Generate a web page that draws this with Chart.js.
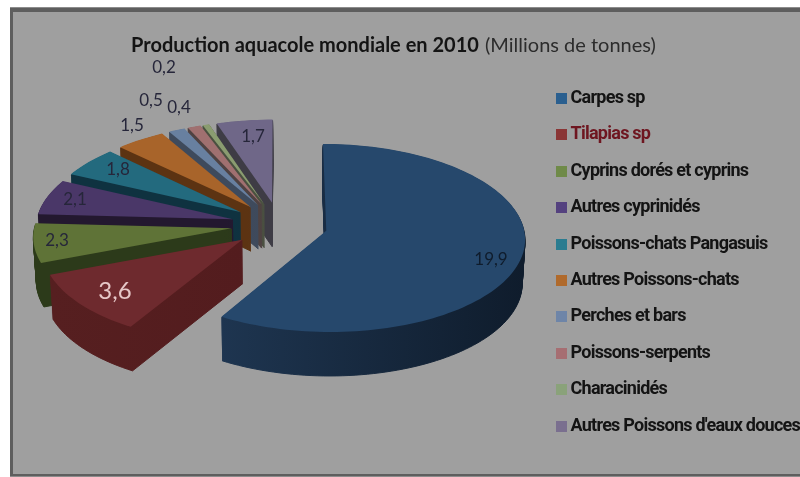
<!DOCTYPE html>
<html lang="fr">
<head>
<meta charset="utf-8">
<title>Production aquacole mondiale en 2010</title>
<script src="https://cdn.jsdelivr.net/npm/chart.js@4"></script>
<style>
html,body{margin:0;padding:0;background:#fff;overflow:hidden}
#wrap{width:800px;height:477px;position:relative}
</style>
</head>
<body>
<div id="wrap"><canvas id="chart" width="800" height="477"></canvas></div>
<script>
// Production figures, millions of tonnes
const categories = ["Carpes sp","Tilapias sp","Cyprins dorés et cyprins","Autres cyprinidés","Poissons-chats Pangasuis","Autres Poissons-chats","Perches et bars","Poissons-serpents","Characinidés","Autres Poissons d'eaux douces"];
const production = [19.9,3.6,2.3,2.1,1.8,1.5,0.5,0.4,0.2,1.7];

// Slice faces, side walls and legend swatches
const topColors = ["#26486c","#6e2a2e","#5f7337","#4a3768","#236a7e","#a8642a","#6880a0","#a07070","#8a9c70","#6f6788"];
const sideNear = ["#1e3550","#561f20","#2c3a1a","#23182f","#0f3240","#5c3312","#3e4a5c","#4f4242","#4a5040","#3e3c45"];
const sideFar = ["#0f1c2c","#531c1e","#2c3a1a","#23182f","#0f3240","#5c3312","#3e4a5c","#4f4242","#4a5040","#3e3c45"];
const legendColors = ["#2a5f8f","#8a3535","#6f8a48","#54417f","#2a7c90","#b06a2c","#6e85a8","#a66e72","#8aa27a","#7a6f8f"];

// Value label centres and sizes, in slice order
const labelPlaces = [[491,260],[115,291],[57,241],[75,200],[118,170],[132,126],[151,101],[179,108],[164,68],[253,137]];
const labelSizes = [17,24,17,17,17,17,17,17,17,17];

// Camera model for the tilted, exploded pie
const explode = 0.245;
const view = {x0:279.5, y0:224.8, a:197, b:92.6, p:0.075, depth:44, taper:0.012, vanishX:285};
const project = (u,v) => {
  const w = 1 - view.p*v;
  return [view.x0 + view.a*u/w, view.y0 + view.b*v/w];
};

// Square legend swatch, sized independently of the legend's text offset
const swatch = (color) => {
  const s = document.createElement('canvas');
  s.width = 11; s.height = 11;
  const g = s.getContext('2d');
  g.fillStyle = color;
  g.fillRect(0,0,11,11);
  return s;
};

class PerspectiveArc extends Chart.ArcElement {
  static id = 'perspectiveArc';
  outline(){
    const {startAngle:s,endAngle:e} = this;
    const mid = (s+e)/2, ou = explode*Math.cos(mid), ov = explode*Math.sin(mid);
    const pts = [project(ou,ov)];
    const n = Math.max(2,Math.ceil((e-s)/0.03));
    for(let i=0;i<=n;i++){
      const t = s+(e-s)*i/n;
      pts.push(project(ou+Math.cos(t),ov+Math.sin(t)));
    }
    return pts;
  }
  draw(ctx){
    const pts = this.outline();
    const i = this.$context.dataIndex;
    const trace = (d) => {
      const k = view.taper*d/view.depth;
      ctx.beginPath();
      pts.forEach(([x,y],j)=>{
        const px = x+(view.vanishX-x)*k, py = y+d;
        j ? ctx.lineTo(px,py) : ctx.moveTo(px,py);
      });
      ctx.closePath();
    };
    ctx.save();
    const xs = pts.map(p=>p[0]);
    const wall = ctx.createLinearGradient(Math.min(...xs),0,Math.max(...xs),0);
    wall.addColorStop(0,sideNear[i]);
    wall.addColorStop(1,sideFar[i]);
    ctx.fillStyle = wall;
    ctx.strokeStyle = wall;
    ctx.lineWidth = 1;
    for(let d=view.depth;d>0;d--){ trace(d); ctx.fill(); ctx.stroke(); }
    trace(0);
    ctx.fillStyle = this.options.backgroundColor;
    ctx.fill();
    ctx.restore();
  }
}

class PerspectivePie extends Chart.PieController {
  static id = 'perspectivePie';
  static defaults = {dataElementType:'perspectiveArc'};
  // Far slices first so nearer ones cover their walls
  draw(){
    const ctx = this.chart.ctx, arcs = this._cachedMeta.data;
    for(let i=arcs.length-1;i>=0;i--) arcs[i].draw(ctx);
  }
}
Chart.register(PerspectiveArc,PerspectivePie);

const panel = {
  id:'panel',
  beforeDraw(chart){
    const c = chart.ctx;
    c.save();
    c.fillStyle = '#ffffff';
    c.fillRect(0,0,800,477);
    c.fillStyle = '#8c8c8c';
    c.fillRect(10,7,790,470);
    c.fillStyle = '#5e5e5e';
    c.fillRect(10,8,790,468);
    c.fillStyle = '#9f9f9f';
    c.fillRect(13,12,787,462);
    c.restore();
  }
};

// Tighter tracking for the legend entries; also applies while the legend is measured
const legendTracking = {
  id:'legendTracking',
  beforeUpdate(chart){ chart.ctx.letterSpacing = '-0.75px'; },
  beforeDraw(chart){ chart.ctx.letterSpacing = '-0.75px'; }
};

const heading = {
  id:'heading',
  afterDraw(chart){
    const c = chart.ctx;
    c.save();
    c.letterSpacing = '0px';
    c.textBaseline = 'alphabetic';
    c.textAlign = 'left';
    c.font = 'bold 20px Lato';
    c.fillStyle = '#141414';
    c.fillText('Production aquacole mondiale en 2010',131,52);
    c.font = '20px Lato';
    c.fillStyle = '#2c2c2c';
    c.fillText('(Millions de tonnes)',485,52);
    c.restore();
  }
};

const valueLabels = {
  id:'valueLabels',
  afterDatasetsDraw(chart){
    const c = chart.ctx;
    c.save();
    c.letterSpacing = '0px';
    c.textAlign = 'center';
    c.textBaseline = 'middle';
    production.forEach((v,i)=>{
      c.font = `${labelSizes[i]}px Lato`;
      c.fillStyle = i===1 ? '#e6c8c8' : (i===0 ? '#0f1c2c' : '#26263a');
      c.fillText(v.toFixed(1).replace('.',','),labelPlaces[i][0],labelPlaces[i][1]);
    });
    c.restore();
  }
};

new Chart(document.getElementById('chart'),{
  type:'perspectivePie',
  data:{labels:categories,datasets:[{data:production,backgroundColor:topColors,borderWidth:0}]},
  plugins:[legendTracking,panel,valueLabels,heading],
  options:{
    responsive:false,
    animation:false,
    layout:{padding:{top:71,right:-10,bottom:0,left:0}},
    plugins:{
      tooltip:{enabled:false},
      title:{display:false},
      legend:{
        display:true,
        position:'right',
        align:'start',
        labels:{
          usePointStyle:true,
          pointStyleWidth:0.1,
          boxHeight:11,
          padding:18.4,
          font:{family:'Roboto',size:18,weight:'bold'},
          generateLabels:(chart)=>categories.map((text,i)=>({
            text,index:i,hidden:false,
            fillStyle:legendColors[i],strokeStyle:legendColors[i],lineWidth:0,
            pointStyle:swatch(legendColors[i]),
            fontColor:i===1?'#6e1620':'#141414'
          }))
        }
      }
    }
  }
});
</script>
</body>
</html>
